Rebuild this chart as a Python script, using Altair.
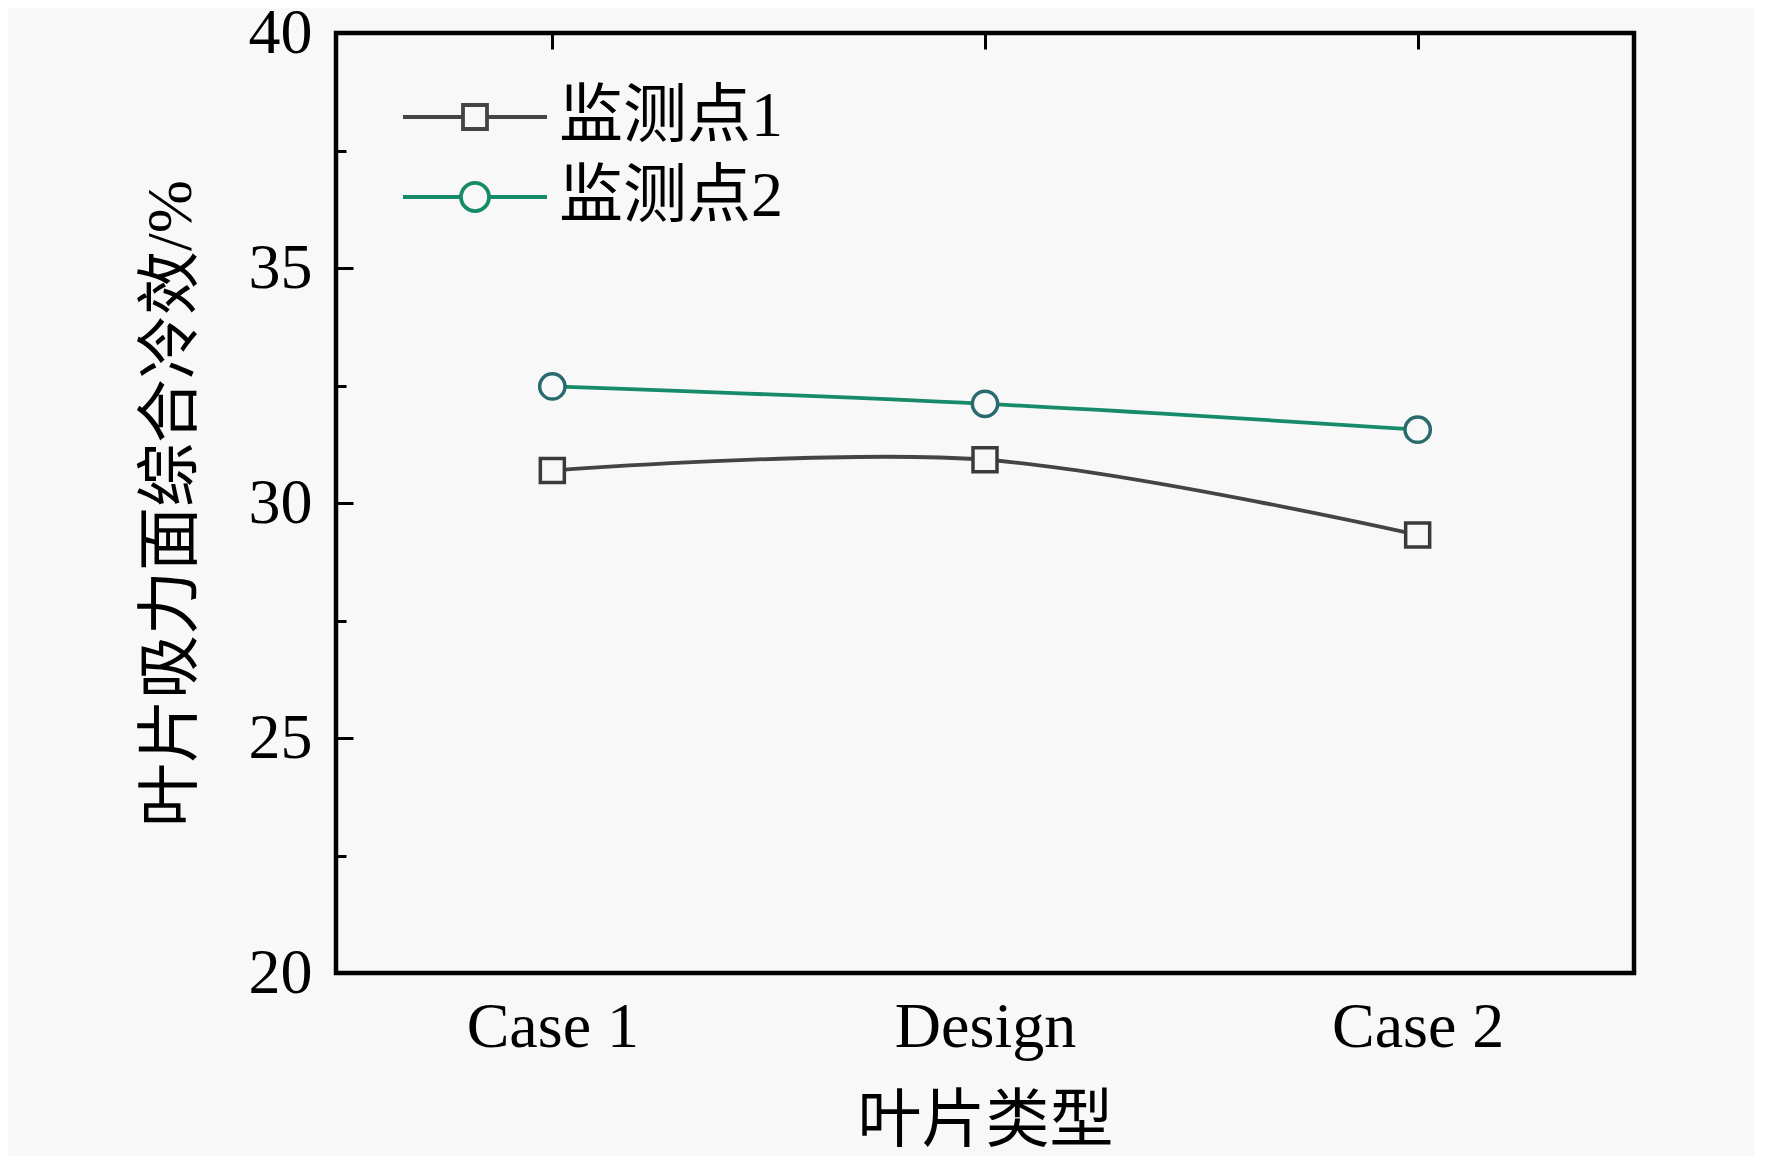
import altair as alt
import pandas as pd

categories = ["Case 1", "Design", "Case 2"]
series_names = ["监测点1", "监测点2"]
values_p1 = [30.69, 30.92, 29.32]
values_p2 = [32.48, 32.11, 31.56]
y_ticks = [20, 22.5, 25, 27.5, 30, 32.5, 35, 37.5, 40]

rows = []
for name, vals in zip(series_names, [values_p1, values_p2]):
    for c, v in zip(categories, vals):
        rows.append({"type": c, "series": name, "value": v})
df = pd.DataFrame(rows)

FONT = "Liberation Serif, Times New Roman, Noto Sans CJK SC"
BG = "#f8f8f8"
line_colors = ["#444444", "#178a6a"]
marker_colors = ["#3a3a3a", "#2a6a6e"]
legend_paths = [
    "M-6,0H-1M1,0H6M-1,-1H1V1H-1Z",
    "M-6,0H-1.17M1.17,0H6M-1.17,0A1.17,1.17 0 1,0 1.17,0A1.17,1.17 0 1,0 -1.17,0Z",
]

x_enc = alt.X(
    "type:N",
    sort=categories,
    scale=alt.Scale(type="point", padding=0.5),
    axis=alt.Axis(
        title="叶片类型",
        titleFont=FONT, titleFontSize=64, titleFontWeight="normal", titleColor="black",
        titlePadding=30,
        labelFont=FONT, labelFontSize=64, labelColor="black", labelPadding=22,
        labelAngle=0, labelBaseline="top", labelLimit=0,
        ticks=False, domain=False,
        grid=True, gridColor="black", gridWidth=3, gridDash=[16, 4000], gridOpacity=1,
    ),
)
y_enc = alt.Y(
    "value:Q",
    scale=alt.Scale(domain=[20, 40], nice=False, zero=False),
    axis=alt.Axis(
        title="叶片吸力面综合冷效/%",
        titleFont=FONT, titleFontSize=64, titleFontWeight="normal", titleColor="black",
        titlePadding=45,
        values=y_ticks,
        labelExpr="datum.value % 5 === 0 ? datum.label : ''",
        labelFont=FONT, labelFontSize=64, labelColor="black", labelPadding=24,
        labelFlush=False, labelOverlap=False,
        ticks=False, tickSize=0, domain=False,
        grid=True, gridColor="black", gridWidth=3, gridOpacity=1,
        gridDash={"condition": {"test": "datum.value % 5 === 0", "value": [17, 4000]},
                  "value": [10, 4000]},
    ),
)

base = alt.Chart(df)

lines = base.mark_line(strokeWidth=3.8, interpolate="catmull-rom").encode(
    x=x_enc,
    y=y_enc,
    stroke=alt.Stroke("series:N", scale=alt.Scale(domain=series_names, range=line_colors), legend=None),
    detail="series:N",
)

points = base.mark_point(filled=False, fill=BG, fillOpacity=1, strokeWidth=3.5, opacity=1).encode(
    x=x_enc,
    y=y_enc,
    shape=alt.Shape("series:N", scale=alt.Scale(domain=series_names, range=["square", "circle"]), legend=None),
    color=alt.Color("series:N", scale=alt.Scale(domain=series_names, range=marker_colors), legend=None),
    size=alt.Size("series:N", scale=alt.Scale(domain=series_names, range=[576, 640]), legend=None),
)

leg = alt.Legend(
    title=None, orient="none", legendX=107, legendY=52,
    labelFont=FONT, labelFontSize=64, labelColor="black", labelLimit=0,
    labelOffset=52, symbolSize=576, symbolStrokeWidth=3.8, symbolFillColor="transparent",
    symbolOpacity=1, rowPadding=16, padding=0,
)

legend_layer = base.transform_filter("false").mark_point(filled=False, strokeWidth=3.8, opacity=1).encode(
    x=x_enc,
    y=y_enc,
    shape=alt.Shape("series:N", scale=alt.Scale(domain=series_names, range=legend_paths), legend=leg),
    stroke=alt.Stroke("series:N", scale=alt.Scale(domain=series_names, range=line_colors), legend=leg),
)

chart = (
    alt.layer(lines, points, legend_layer)
    .resolve_scale(stroke="independent", shape="independent")
    .properties(
        width=1298, height=940,
        padding={"left": 328, "top": 25, "right": 120, "bottom": 183},
        autosize=alt.AutoSizeParams(type="none"),
        background=BG,
    )
    .configure_view(stroke="black", strokeWidth=4.5)
)

chart.save("out.html", embed_options={"renderer": "svg", "actions": False})
